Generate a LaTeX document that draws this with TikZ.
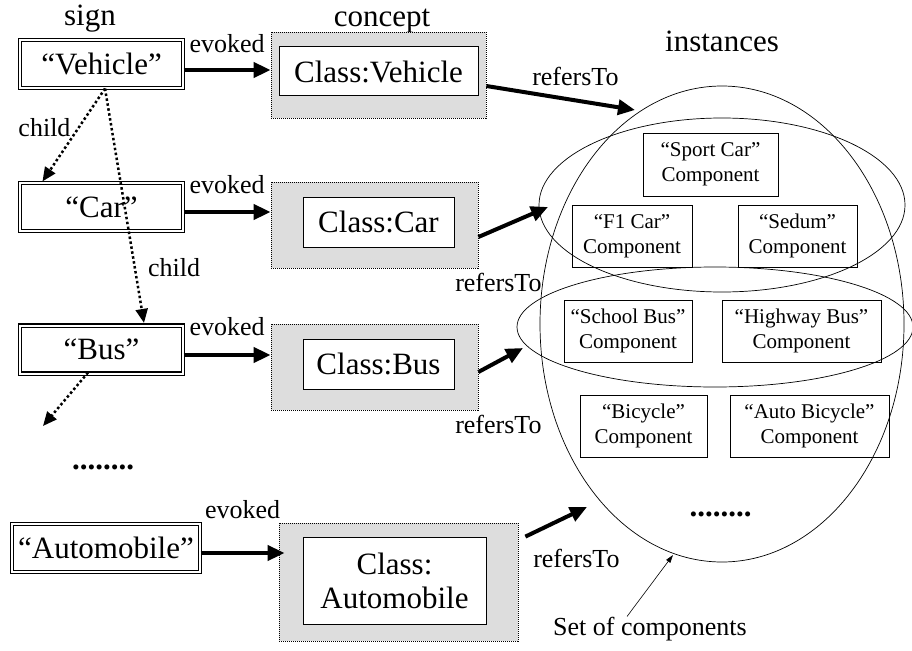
\documentclass[tikz,border=0pt]{standalone}
\usepackage{fontspec}
\setmainfont{Liberation Serif}
\usepackage{xcolor}
\usetikzlibrary{arrows.meta,shapes.geometric}

\definecolor{conceptgray}{RGB}{221,221,221}
\newcommand{\signfont}{\fontsize{31}{34}\selectfont}
\newcommand{\edgefont}{\fontsize{26}{28}\selectfont}
\newcommand{\compfont}{\fontsize{21}{25}\selectfont}

\begin{document}
\begin{tikzpicture}[x=1pt, y=-1pt,
    signbox/.style={draw, double, double distance=2pt, line width=1.1pt, minimum width=163pt, minimum height=48pt, inner sep=0pt, font=\signfont},
    conceptbox/.style={draw, fill=conceptgray, line width=0.8pt, dash pattern=on 1pt off 1pt, inner sep=0pt},
    classbox/.style={draw, fill=white, line width=1pt, inner sep=0pt, font=\signfont, align=center},
    compbox/.style={draw, line width=0.7pt, minimum height=62pt, inner sep=0pt, font=\compfont, align=center},
    groupring/.style={draw, ellipse, line width=0.7pt, inner sep=0pt},
    relarrow/.style={line width=4pt, -{Triangle[length=17pt,width=15pt]}},
    childarrow/.style={line width=2.5pt, dash pattern=on 2.5pt off 2.5pt, -{Triangle[length=14pt,width=12pt]}},
    pointer/.style={line width=0.6pt, -{Triangle[length=8pt,width=5pt]}},
    edgelabel/.style={font=\edgefont, inner sep=0pt},
    morelabel/.style={font=\signfont\bfseries, anchor=base}]
    \useasboundingbox (0,0) rectangle (912,650);

    % headings
    \node[font=\signfont, anchor=base] (signhead) at (90,26) {sign};
    \node[font=\signfont, anchor=base] (concepthead) at (382,27) {concept};
    \node[font=\signfont, anchor=base] (instancehead) at (722,52) {instances};

    % signs
    \node[signbox] (vehicle) at (101.5,64) {“Vehicle”};
    \node[signbox] (car) at (101.5,207) {“Car”};
    \node[signbox] (bus) at (101.5,349.5) {“Bus”};
    \node[signbox, minimum width=188pt] (auto) at (106,548) {“Automobile”};
    \node[morelabel] (moresigns) at (103,469) {........};
    \coordinate (busnext) at (43,426);

    % concepts
    \node[conceptbox, minimum width=215pt, minimum height=86pt] (gvehicle) at (378.5,75) {};
    \node[classbox, minimum width=199pt, minimum height=49pt] (cvehicle) at (378.5,71.5) {Class:Vehicle};
    \node[conceptbox, minimum width=207pt, minimum height=86pt] (gcar) at (374.5,225) {};
    \node[classbox, minimum width=151pt, minimum height=50pt] (ccar) at (378.5,222) {Class:Car};
    \node[conceptbox, minimum width=207pt, minimum height=86pt] (gbus) at (374.5,367) {};
    \node[classbox, minimum width=151pt, minimum height=50pt] (cbus) at (378.5,364) {Class:Bus};
    \node[conceptbox, minimum width=239pt, minimum height=118pt] (gauto) at (398.5,582) {};
    \node[classbox, minimum width=183pt, minimum height=87pt] (cauto) at (394.5,580.5) {Class:\\Automobile};

    % instances
    \node[groupring, minimum width=364pt, minimum height=476pt] (allcomp) at (722,324) {};
    \node[groupring, minimum width=366pt, minimum height=174pt] (carcomp) at (722,205) {};
    \node[groupring, minimum width=396pt, minimum height=120pt] (buscomp) at (715,327) {};
    \node[compbox, minimum width=135pt, minimum height=63pt] (sport) at (710.5,164.5) {“Sport Car”\\Component};
    \node[compbox, minimum width=120pt] (fone) at (632,236) {“F1 Car”\\Component};
    \node[compbox, minimum width=119pt] (sedum) at (797.5,236) {“Sedum”\\Component};
    \node[compbox, minimum width=128pt] (school) at (628,331) {“School Bus”\\Component};
    \node[compbox, minimum width=159pt] (highway) at (801.5,331) {“Highway Bus”\\Component};
    \node[compbox, minimum width=127pt] (bicycle) at (643.5,426) {“Bicycle”\\Component};
    \node[compbox, minimum width=159pt] (autobike) at (809.5,426) {“Auto Bicycle”\\Component};
    \node[morelabel] (moreinst) at (720.5,516) {........};
    \node[edgelabel, anchor=base] (setlabel) at (650,635) {Set of components};
    \coordinate (vehtip) at (635,110);
    \coordinate (cartip) at (548,207);
    \coordinate (bustip) at (523,348);
    \coordinate (autotip) at (587,507);
    \coordinate (settip) at (673,555);

    % child links
    \draw[childarrow] ([xshift=3.5pt]vehicle.south) -- node[pos=0.42, left=7pt, edgelabel] {child} ([xshift=23pt,yshift=1pt]car.north west);
    \draw[childarrow] ([xshift=3.5pt]vehicle.south) -- node[pos=0.765, right=12pt, edgelabel] {child} ([xshift=42.5pt,yshift=2pt]bus.north);
    \draw[childarrow] ([xshift=-13.5pt,yshift=1.5pt]bus.south) -- (busnext);

    % evoked
    \draw[relarrow] ([yshift=-6pt]vehicle.east) -- node[edgelabel, above=15pt] {evoked} ([yshift=-6pt]vehicle.east -| gvehicle.west);
    \draw[relarrow] ([yshift=-5pt]car.east) -- node[edgelabel, above=16pt] {evoked} ([yshift=-5pt]car.east -| gcar.west);
    \draw[relarrow] ([yshift=-5.5pt]bus.east) -- node[edgelabel, above=17pt] {evoked} ([yshift=-5.5pt]bus.east -| gbus.west);
    \draw[relarrow] ([yshift=-5pt]auto.east) -- node[edgelabel, above=32pt] {evoked} ([xshift=6pt,yshift=-5pt]auto.east -| gauto.west);

    % refersTo
    \draw[relarrow] ([yshift=-11pt]gvehicle.east) -- node[at start, edgelabel, anchor=base, xshift=89pt] {refersTo} (vehtip);
    \draw[relarrow] ([yshift=-12pt]gcar.east) -- node[at start, edgelabel, anchor=base, xshift=20pt, yshift=-54pt] {refersTo} (cartip);
    \draw[relarrow] ([yshift=-5pt]gbus.east) -- node[at start, edgelabel, anchor=base, xshift=20pt, yshift=-61pt] {refersTo} (bustip);
    \draw[relarrow] ([xshift=7pt,yshift=-14pt]gauto.north east) -- node[at start, edgelabel, anchor=base, xshift=51pt, yshift=-31pt] {refersTo} (autotip);

    \draw[pointer] ([xshift=-23pt]setlabel.north) -- (settip);
\end{tikzpicture}
\end{document}
